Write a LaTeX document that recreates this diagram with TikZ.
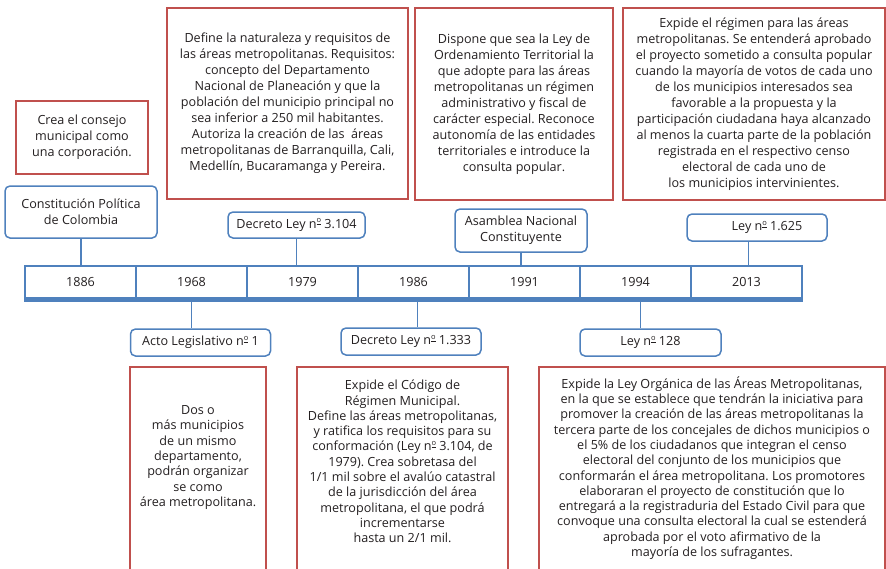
\documentclass[tikz,border=0pt]{standalone}
\usepackage{fontspec}
\setmainfont{Open Sans}
\usepackage{tikz}
\usetikzlibrary{calc}
\definecolor{boxred}{RGB}{192,80,77}
\definecolor{lineblue}{RGB}{79,129,189}
\definecolor{txtgray}{RGB}{35,31,32}
\def\boxfont{\fontsize{12.6}{16}\selectfont}
\def\nro{n\raisebox{0.42em}{\fontsize{7.5}{7.5}\selectfont\underline{o}}}
\frenchspacing
\tikzset{
	redbox/.style={draw=boxred, line width=2pt, inner sep=0pt, align=center, text=txtgray, font=\boxfont},
	redline/.style={draw=boxred, line width=2pt},
	redtext/.style={inner sep=0pt, align=center, text=txtgray, font=\fontsize{12.6}{15.3}\selectfont},
	bluebox/.style={draw=lineblue, line width=1.5pt, rounded corners=5pt, fill=white, inner sep=0pt, align=center, minimum height=27pt, text=txtgray, font=\boxfont},
	yearcell/.style={draw=lineblue, line width=2pt, minimum width=111pt, minimum height=32pt, inner sep=0pt, text=txtgray, font=\boxfont},
	link/.style={draw=lineblue, line width=1.5pt}
}

\begin{document}
\begin{tikzpicture}[x=1pt, y=-1pt]
			%%%%% START %%%%%
			\useasboundingbox (0, 0) rectangle (886, 568);
			\clip (0, 0) rectangle (886, 568);
			
			% top notes
			\node[redbox, minimum width=132pt, minimum height=73pt] (crea) at (82, 137.5)
				{Crea el consejo\\ municipal como\\ una corporación.};
			\node[redbox, minimum width=241pt, minimum height=191pt] (define) at (287.5, 103.5)
				{Define la naturaleza y requisitos de\\ las áreas metropolitanas. Requisitos:\\ concepto del Departamento\\ Nacional de Planeación y que la\\ población del municipio principal no\\ sea inferior a 250 mil habitantes.\\ Autoriza la creación de las \ áreas\\ metropolitanas de Barranquilla, Cali,\\ Medellín, Bucaramanga y Pereira.};
			\node[redbox, minimum width=198pt, minimum height=192pt] (dispone) at (514, 104)
				{Dispone que sea la Ley de\\ Ordenamiento Territorial la\\ que adopte para las áreas\\ metropolitanas un régimen\\ administrativo y fiscal de\\ carácter especial. Reconoce\\ autonomía de las entidades\\ territoriales e introduce la\\ consulta popular.};
			\node[redbox, minimum width=262pt, minimum height=192pt] (expide) at (754, 104)
				{Expide el régimen para las áreas\\ metropolitanas. Se entenderá aprobado\\ el proyecto sometido a consulta popular\\ cuando la mayoría de votos de cada uno\\ de los municipios interesados sea\\ favorable a la propuesta y la\\ participación ciudadana haya alcanzado\\ al menos la cuarta parte de la población\\ registrada en el respectivo censo\\ electoral de cada uno de\\ los municipios intervinientes.};
			
			% labels above
			\node[bluebox, minimum width=152pt, minimum height=52pt] (cons) at (81, 212) {Constitución Política\\ de Colombia};
			\node[bluebox, minimum width=137pt, minimum height=26pt] (d3104) at (296.5, 225) {Decreto Ley \nro\ 3.104};
			\node[bluebox, minimum width=132pt, minimum height=43pt] (asam) at (521, 230.5) {Asamblea Nacional\\ Constituyente};
			\node[bluebox, minimum width=140pt] (l1625) at (757, 227.5) {\hspace{20pt}Ley \nro\ 1.625};
			
			% timeline
			\foreach \yr [count=\i from 0] in {1886,1968,1979,1986,1991,1994,2013}
				\node[yearcell] (y\yr) at ({80.5+111*\i}, 282) {\yr};
			\fill[lineblue] ([yshift=2pt]y1886.south west) rectangle ([yshift=-3pt]y2013.south east);
			
			% labels below
			\node[bluebox, minimum width=140pt] (acto) at (200.5, 342.5) {Acto Legislativo \nro\ 1};
			\node[bluebox, minimum width=140pt] (d1333) at (411, 341.5) {Decreto Ley \nro\ 1.333};
			\node[bluebox, minimum width=141pt] (l128) at (650.5, 342.5) {Ley \nro\ 128};
			
			\draw[link] (cons.south) -- (cons.south |- y1886.north);
			\draw[link] (d3104.south) -- (d3104.south |- y1979.north);
			\draw[link] (asam.south) -- (asam.south |- y1991.north);
			\draw[link] ([xshift=2pt]y2013.north) -- ([xshift=2pt]y2013.north |- l1625.south);
			\draw[link] ([yshift=-3pt]y1968.south) -- (y1968.south |- acto.north);
			\draw[link] ([xshift=4pt, yshift=-3pt]y1986.south) -- ([xshift=4pt]y1986.south |- d1333.north);
			\draw[link] ([xshift=5pt, yshift=-3pt]y1994.south) -- ([xshift=5pt]y1994.south |- l128.north);
			
			% bottom notes
			\draw[redline] (130, 600) -- (130, 367) -- (266, 367) -- (266, 600);
			\node[redtext] (dos) at (198, 457.5)
				{Dos o\\ más municipios\\ de un mismo\\ departamento,\\ podrán organizar\\ se como\\ área metropolitana.};
			\draw[redline] (297, 600) -- (297, 367) -- (508, 367) -- (508, 600);
			\node[redtext] (codigo) at (402.5, 461.5)
				{Expide el Código de\\ Régimen Municipal.\\ Define las áreas metropolitanas,\\ y ratifica los requisitos para su\\ conformación (Ley \nro\ 3.104, de\\ 1979). Crea sobretasa del\\ 1/1 mil sobre el avalúo catastral\\ de la jurisdicción del área\\ metropolitana, el que podrá\\ incrementarse\\ hasta un 2/1 mil.};
			\draw[redline] (539, 600) -- (539, 367) -- (885, 367) -- (885, 600);
			\node[redtext] (organica) at (712, 468)
				{Expide la Ley Orgánica de las Áreas Metropolitanas,\\ en la que se establece que tendrán la iniciativa para\\ promover la creación de las áreas metropolitanas la\\ tercera parte de los concejales de dichos municipios o\\ el 5\% de los ciudadanos que integran el censo\\ electoral del conjunto de los municipios que\\ conformarán el área metropolitana. Los promotores\\ elaboraran el proyecto de constitución que lo\\ entregará a la registraduria del Estado Civil para que\\ convoque una consulta electoral la cual se estenderá\\ aprobada por el voto afirmativo de la\\ mayoría de los sufragantes.};
			%%%%% END %%%%%
		\end{tikzpicture}
\end{document}
